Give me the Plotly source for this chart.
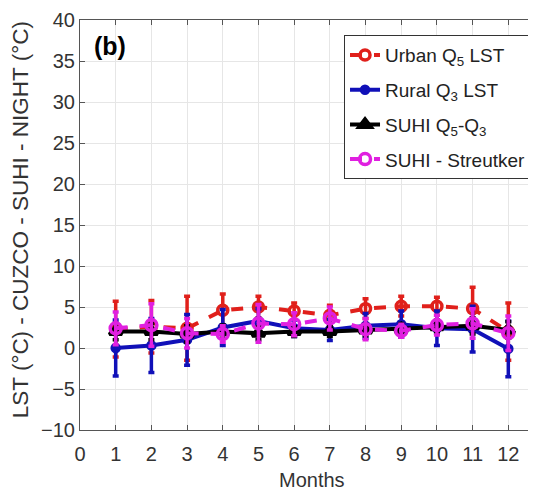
import plotly.graph_objects as go

months = list(range(1, 13))
urban = [2.3, 2.6, 2.4, 4.6, 5.0, 4.5, 4.0, 4.8, 5.1, 5.1, 4.8, 2.0]
urban_err = [3.4, 3.2, 3.9, 2.0, 1.3, 1.0, 1.2, 1.2, 1.2, 1.1, 2.6, 3.5]
rural = [0.0, 0.3, 1.0, 2.5, 3.3, 2.4, 2.2, 2.7, 2.9, 2.4, 2.3, -0.1]
rural_err = [3.4, 3.3, 3.1, 2.2, 1.5, 1.0, 1.3, 1.5, 1.6, 2.1, 2.8, 3.4]
suhi = [2.0, 2.0, 1.7, 2.0, 1.8, 2.0, 2.0, 2.2, 2.3, 2.6, 2.7, 2.2]
suhi_err = [1.0, 1.0, 1.0, 0.8, 0.8, 0.6, 0.6, 0.7, 0.7, 0.8, 1.0, 1.0]
streutker = [2.4, 2.8, 1.8, 1.7, 3.0, 2.9, 3.6, 2.3, 2.1, 2.8, 3.0, 1.8]
streutker_err = [2.0, 2.6, 1.8, 1.0, 2.3, 1.4, 1.4, 1.3, 0.8, 1.2, 1.8, 2.1]

fig = go.Figure()

def add(name, y, err, color, dash, symbol, size, group):
    fig.add_trace(go.Scatter(
        x=months, y=y, name=name, mode="lines+markers", legendgroup=group,
        line=dict(color=color, width=4, dash=dash),
        marker=dict(symbol=symbol, size=size, color=color,
                    line=dict(color=color, width=3.5)),
        error_y=dict(type="data", array=err, color=color, thickness=3.5, width=3),
    ))

add("Urban Q<sub>5</sub> LST", urban, urban_err, "#e0201b", "dash", "circle-open", 10, "a")
add("Rural Q<sub>3</sub> LST", rural, rural_err, "#1010b8", "solid", "circle", 7, "b")
add("SUHI Q<sub>5</sub>-Q<sub>3</sub>", suhi, suhi_err, "#000000", "solid", "triangle-up", 11, "c")
add("SUHI - Streutker", streutker, streutker_err, "#e020e0", "dash", "circle-open", 11, "d")

fig.add_annotation(text="<b>(b)</b>", xref="paper", yref="paper", x=0.026, y=0.975,
                   xanchor="left", yanchor="top", showarrow=False,
                   font=dict(size=25, color="black", family="Liberation Sans"))

fig.add_annotation(text="LST (°C) - CUZCO - SUHI - NIGHT (°C)", xref="paper", yref="paper",
                   x=-0.129, y=0.512, xanchor="center", yanchor="middle", textangle=-90,
                   showarrow=False, font=dict(size=22.5, color="#333333"))

fig.add_annotation(text="Months", xref="paper", yref="paper",
                   x=0.5, y=-0.122, xanchor="center", yanchor="middle",
                   showarrow=False, font=dict(size=20, color="#333333"))

fig.update_layout(
    width=536, height=499,
    margin=dict(l=72, r=0, t=12, b=77),
    paper_bgcolor="white", plot_bgcolor="white",
    font=dict(family="Liberation Sans", size=20, color="#333333"),
    showlegend=True,
    legend=dict(x=0.569, y=0.963, xanchor="left", yanchor="top",
                bgcolor="white", bordercolor="#333333", borderwidth=1,
                font=dict(size=19, color="#222222"), tracegroupgap=7,
                itemwidth=30),
    xaxis=dict(range=[0, 13], tickmode="array", tickvals=list(range(0, 13)),
               showgrid=True, gridcolor="#e6e6e6", gridwidth=1,
               showline=True, linecolor="#555555", linewidth=1, mirror="allticks",
               ticks="inside", ticklen=5, tickcolor="#555555", ticklabelstandoff=6,
               automargin=False, zeroline=False),
    yaxis=dict(range=[-10, 40], tickmode="array", tickvals=list(range(-10, 41, 5)),
               showgrid=True, gridcolor="#e6e6e6", gridwidth=1,
               showline=True, linecolor="#555555", linewidth=1,
               ticks="inside", ticklen=5, tickcolor="#555555",
               automargin=False, zeroline=False),
)

fig.write_html("out.html")
